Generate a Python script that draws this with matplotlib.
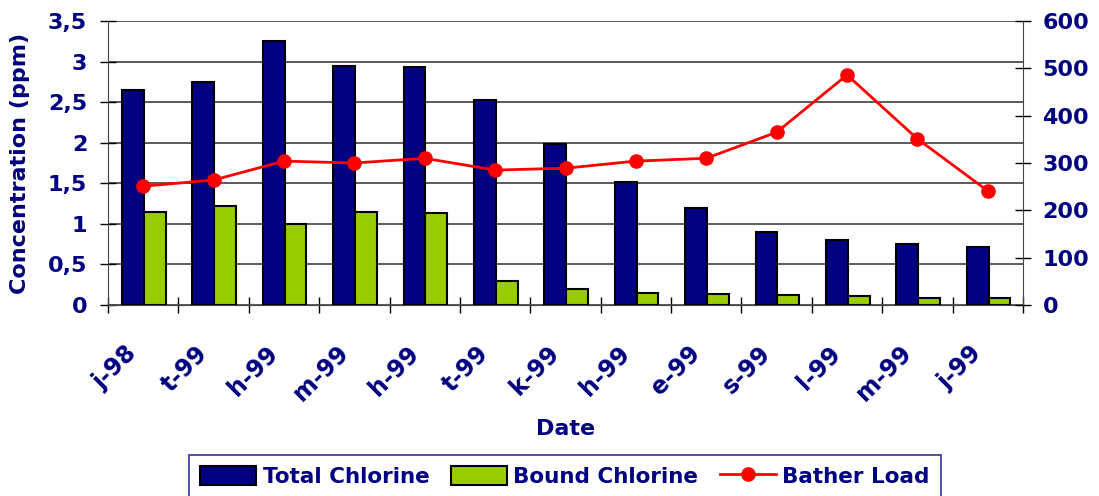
import matplotlib
matplotlib.use("Agg")
import matplotlib.pyplot as plt
import numpy as np
from matplotlib.lines import Line2D
from matplotlib.patches import Patch

categories = ["j-98", "t-99", "h-99", "m-99", "h-99", "t-99", "k-99",
              "h-99", "e-99", "s-99", "l-99", "m-99", "j-99"]
total_chlorine = [2.65, 2.75, 3.25, 2.95, 2.93, 2.53, 1.98, 1.52, 1.20, 0.90, 0.80, 0.75, 0.72]
bound_chlorine = [1.15, 1.22, 1.00, 1.15, 1.13, 0.30, 0.20, 0.15, 0.13, 0.12, 0.11, 0.09, 0.09]
bather_load = [251, 264, 304, 300, 310, 285, 289, 304, 310, 365, 486, 351, 241]
left_ticks = [0, 0.5, 1, 1.5, 2, 2.5, 3, 3.5]
left_tick_labels = ["0", "0,5", "1", "1,5", "2", "2,5", "3", "3,5"]
right_ticks = [0, 100, 200, 300, 400, 500, 600]

NAVY = "#000080"
GREEN = "#99CC00"
RED = "#FF0000"

plt.rcParams['font.family'] = ['DejaVu Sans']
plt.rcParams['font.weight'] = 'bold'

fig = plt.figure(figsize=(10.99, 4.96), dpi=100)
ax = fig.add_axes([108/1099, 1 - 305/496, (1023-108)/1099, (305-21)/496])
ax2 = ax.twinx()

x = np.arange(len(categories))
w = 0.31
ax.bar(x - w/2 + 0.01, total_chlorine, width=w, color=NAVY, edgecolor="black", linewidth=1.5, zorder=3)
ax.bar(x + w/2 + 0.01, bound_chlorine, width=w, color=GREEN, edgecolor="black", linewidth=1.5, zorder=3)

ax.set_xlim(-0.5, len(categories) - 0.5)
ax.set_ylim(0, 3.5)
ax.set_yticks(left_ticks)
ax.set_yticklabels(left_tick_labels)
ax.yaxis.grid(True, color="#404040", linewidth=1.2, zorder=0)
ax.set_axisbelow(True)

ax.set_xticks(np.arange(len(categories) + 1) - 0.5, minor=False)
ax.set_xticklabels([])
# label anchors slightly left of category centres (invisible minor ticks)
ax.set_xticks(x - 0.26, minor=True)
ax.set_xticklabels(categories, minor=True, rotation=45, ha="right", va="top",
                   rotation_mode="anchor", fontsize=17, fontweight="bold", color=NAVY)
ax.tick_params(axis="x", which="major", direction="inout", length=12, width=1, color="black")
ax.tick_params(axis="x", which="minor", length=0, pad=26)
ax.tick_params(axis="y", direction="inout", length=12, width=1, labelsize=16, labelcolor=NAVY, pad=9)

for s in ["top", "right"]:
    ax.spines[s].set_visible(False)
    ax2.spines[s].set_visible(False)
ax2.spines["left"].set_visible(False)
ax2.spines["bottom"].set_visible(False)
ax2.spines["right"].set_visible(True)
ax.spines["left"].set_color("#444444")
ax.spines["bottom"].set_color("#444444")
ax2.spines["right"].set_color("#444444")

ax2.plot(x, bather_load, color=RED, linewidth=2, marker="o", markersize=9.5, zorder=5)
ax2.set_ylim(0, 600)
ax2.set_yticks(right_ticks)
ax2.tick_params(axis="y", direction="inout", length=12, width=1, labelsize=16, labelcolor=NAVY, pad=8)
for lbl in ax2.get_yticklabels():
    lbl.set_fontweight("bold")
for lbl in ax.get_yticklabels():
    lbl.set_fontweight("bold")

ax.set_ylabel("Concentration (ppm)", fontsize=16, fontweight="bold", color=NAVY)
ax.yaxis.set_label_coords(-0.085, 0.5)
ax.set_xlabel("Date", fontsize=16, fontweight="bold", color=NAVY)
ax.xaxis.set_label_coords(0.5, -0.40)

handles = [Patch(facecolor=NAVY, edgecolor="black", linewidth=1.5),
           Patch(facecolor=GREEN, edgecolor="black", linewidth=1.5),
           Line2D([0], [0], color=RED, linewidth=2, marker="o", markersize=9.5)]
labels = ["Total Chlorine", "Bound Chlorine", "Bather Load"]
leg = fig.legend(handles, labels, loc="lower center", bbox_to_anchor=(565/1099, -0.025),
                 ncol=3, frameon=True, fancybox=False,
                 prop={"weight": "bold", "size": 15.5}, handlelength=2.6, handleheight=1.0,
                 columnspacing=1.0, handletextpad=0.3, borderpad=0.5)
leg.get_frame().set_edgecolor(NAVY)
leg.get_frame().set_linewidth(1.2)
for t in leg.get_texts():
    t.set_color(NAVY)

fig.savefig("out.png", dpi=100)
